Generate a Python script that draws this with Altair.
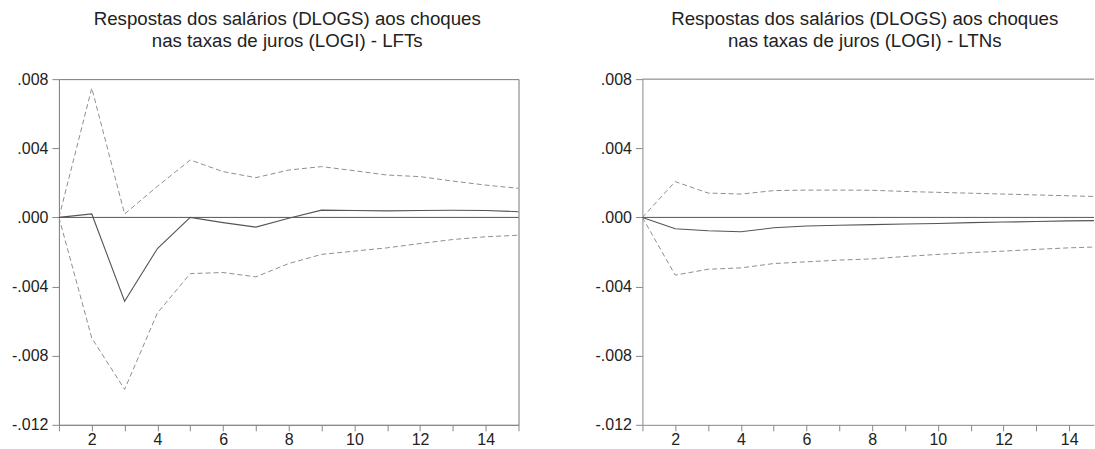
import altair as alt
import pandas as pd

steps = list(range(1, 16))

lft_resp = [0, 0.0002, -0.00485, -0.0018, 0.0, -0.0003, -0.00056, -0.00005,
            0.00042, 0.0004, 0.00038, 0.0004, 0.00041, 0.0004, 0.00033]
lft_upper = [0, 0.00748, 0.0002, 0.0018, 0.00332, 0.00265, 0.0023, 0.00274,
             0.00294, 0.0027, 0.00245, 0.00236, 0.0021, 0.00187, 0.00168]
lft_lower = [0, -0.00698, -0.00995, -0.00553, -0.00325, -0.00319, -0.00344, -0.00267,
             -0.00214, -0.00195, -0.00176, -0.00151, -0.00128, -0.00112, -0.00103]

ltn_resp = [0, -0.00066, -0.00077, -0.00083, -0.0006, -0.0005, -0.00045, -0.00042,
            -0.00038, -0.00035, -0.0003, -0.00027, -0.00024, -0.0002, -0.00018]
ltn_upper = [0, 0.00207, 0.00141, 0.00135, 0.00155, 0.00158, 0.00158, 0.00157,
             0.0015, 0.00145, 0.0014, 0.00135, 0.0013, 0.00125, 0.0012]
ltn_lower = [0, -0.00334, -0.003, -0.00292, -0.00267, -0.00257, -0.00247, -0.0024,
             -0.00226, -0.00214, -0.00204, -0.00195, -0.00185, -0.00176, -0.0017]

y_ticks = [-0.012, -0.008, -0.004, 0.0, 0.004, 0.008]
title_line1 = "Respostas dos salários (DLOGS) aos choques"
title_lft = [title_line1, "nas taxas de juros (LOGI) - LFTs"]
title_ltn = [title_line1, "nas taxas de juros (LOGI) - LTNs"]

FONT = "Liberation Sans"
Y_LABEL = "replace(replace(format(datum.value, '.3f'), '\u2212', '-'), '0.', '.')"


def make_df(resp, upper, lower):
    rows = []
    for name, vals in (("resp", resp), ("upper", upper), ("lower", lower)):
        for s, v in zip(steps, vals):
            rows.append({"step": s, "value": v, "series": name})
    return pd.DataFrame(rows)


def panel(df, title, width, xmax, dx, frame):
    x = alt.X("step:Q",
              scale=alt.Scale(domain=[1, xmax], nice=False, zero=False),
              axis=alt.Axis(values=steps, title=None, grid=False, labelPadding=1,
                            tickSize=6,
                            labelExpr="datum.value % 2 == 0 ? datum.label : ''"))
    y = alt.Y("value:Q",
              scale=alt.Scale(domain=[-0.012, 0.008], nice=False, zero=False),
              axis=alt.Axis(values=y_ticks, title=None, grid=False, labelPadding=4,
                            tickSize=7, labelExpr=Y_LABEL))
    base = alt.Chart(df)
    dashed = base.transform_filter("datum.series != 'resp'").mark_line(
        strokeDash=[5, 3], color="#8f8f8f", strokeWidth=1, clip=True
    ).encode(x=x, y=y, detail="series:N")
    solid = base.transform_filter("datum.series == 'resp'").mark_line(
        color="#555555", strokeWidth=1.1, clip=True
    ).encode(x=x, y=y)
    zero = alt.Chart(pd.DataFrame({"z": [0.0]})).mark_rule(
        color="#555555", strokeWidth=1
    ).encode(y="z:Q")
    layers = [zero, dashed, solid]
    if not frame:
        top = alt.Chart(pd.DataFrame({"t": [0.008]})).mark_rule(
            color="#777777", strokeWidth=1
        ).encode(y="t:Q", x=alt.value(0), x2=alt.value(width))
        layers.append(top)
    ch = alt.layer(*layers).properties(
        width=width, height=346,
        title=alt.TitleParams(text=title, fontSize=18.7, font=FONT, fontWeight="normal",
                              color="#222222", lineHeight=22.3, offset=20,
                              anchor="middle", dx=dx),
    )
    if not frame:
        ch = ch.properties(view=alt.ViewBackground(stroke=None))
    return ch


left = panel(make_df(lft_resp, lft_upper, lft_lower), title_lft, 460, 15, -1.5, True)
right_w = 452
right = panel(make_df(ltn_resp, ltn_upper, ltn_lower), title_ltn, right_w,
              1 + right_w * 14 / 460, -3.5, False)

chart = alt.hconcat(left, right, spacing=75).properties(
    padding={"left": 11, "top": 9, "right": 0, "bottom": 0},
    background="white",
).configure_view(stroke="#777777", strokeWidth=1).configure_axis(
    domainColor="#888888", tickColor="#888888",
    labelFont=FONT, labelFontSize=16, labelColor="#222222",
    domainWidth=1, tickWidth=1,
)

chart.save("out.html", embed_options={"renderer": "svg", "actions": False})
